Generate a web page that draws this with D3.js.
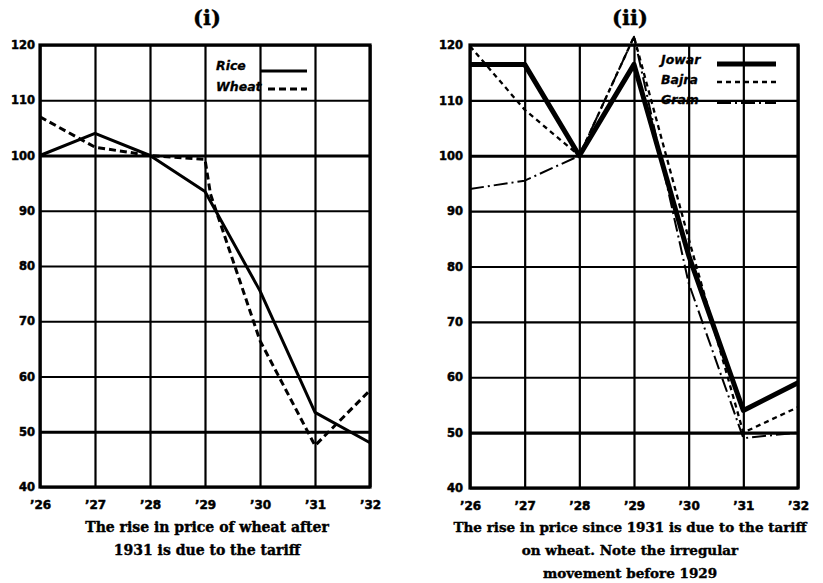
<!DOCTYPE html>
<html><head><meta charset="utf-8">
<script src="https://cdn.jsdelivr.net/npm/d3@7/dist/d3.min.js"></script>
<style>body{margin:0;background:#fff}svg{display:block}</style>
</head><body><svg id="c" width="823" height="583"></svg>
<script>
const years = [1926, 1927, 1928, 1929, 1930, 1931, 1932];
const yearLabels = ["’26", "’27", "’28", "’29", "’30", "’31", "’32"];
const yTicks = [40, 50, 60, 70, 80, 90, 100, 110, 120];

const riceValues = [100, 104, 100, 93.5, 75.5, 53.5, 48];
const wheatYears = [1926, 1927, 1928, 1929, 1929.1, 1930, 1931, 1932];
const wheatValues = [107, 101.5, 100, 99.3, 93, 66.5, 47.5, 57.5];

const jowarValues = [116.5, 116.5, 100, 116.5, 82, 54, 59];
const bajraValues = [119.8, 108.3, 100, 121.5, 85, 50, 54.6];
const gramValues = [94, 95.5, 100, 121.5, 77, 49, 50];

const svg = d3.select("#c");

function panel(cfg) {
  const x = d3.scaleLinear().domain([1926, 1932]).range([cfg.left, cfg.right]);
  const y = d3.scaleLinear().domain([40, 120]).range([cfg.bottom, cfg.top]);
  const g = svg.append("g");

  const gx = g.append("g").attr("transform", `translate(0,${cfg.bottom})`)
    .call(d3.axisBottom(x).tickValues(years).tickSize(-(cfg.bottom - cfg.top)).tickFormat((d, i) => yearLabels[i]));
  gx.select(".domain").remove();
  gx.selectAll("line").attr("stroke", "#000").attr("stroke-width", 2.2);
  gx.selectAll("text").attr("font-family", "DejaVu Sans").attr("font-weight", "bold")
    .attr("font-size", 12).attr("fill", "#000").attr("stroke", "#000").attr("stroke-width", 0.5)
    .attr("dy", "0").attr("y", 22);

  const gy = g.append("g").attr("transform", `translate(${cfg.left},0)`)
    .call(d3.axisLeft(y).tickValues(yTicks).tickSize(-(cfg.right - cfg.left)).tickPadding(cfg.pad));
  gy.select(".domain").remove();
  gy.selectAll("line").attr("stroke", "#000").attr("stroke-width", d => (d === 100 || d === 50) ? 3.2 : 2.2);
  gy.selectAll("text").attr("font-family", "DejaVu Sans").attr("font-weight", "bold")
    .attr("font-size", 11.5).attr("fill", "#000").attr("stroke", "#000").attr("stroke-width", 0.5);

  g.append("rect").attr("x", cfg.left).attr("y", cfg.top)
    .attr("width", cfg.right - cfg.left).attr("height", cfg.bottom - cfg.top)
    .attr("fill", "none").attr("stroke", "#000").attr("stroke-width", 3.2);

  cfg.series.forEach(s => {
    const pts = s.xs.map((xv, i) => [xv, s.vs[i]]);
    g.append("path").datum(pts)
      .attr("d", d3.line().x(d => x(d[0])).y(d => y(d[1])))
      .attr("fill", "none").attr("stroke", "#000")
      .attr("stroke-width", s.w).attr("stroke-dasharray", s.dash || null)
      .attr("stroke-linejoin", "round");
  });

  cfg.series.forEach((s, i) => {
    const ly = cfg.legY + i * cfg.legStep;
    g.append("text").attr("x", cfg.legX).attr("y", ly + 4)
      .attr("font-family", "DejaVu Sans").attr("font-weight", "bold").attr("font-style", "italic")
      .attr("font-size", 12.5).attr("fill", "#000").attr("stroke", "#000").attr("stroke-width", 0.3)
      .text(s.name);
    g.append("line").attr("x1", s.l1 || cfg.legL1).attr("x2", cfg.legL2)
      .attr("y1", ly + s.off).attr("y2", ly + s.off)
      .attr("stroke", "#000").attr("stroke-width", s.w).attr("stroke-dasharray", s.dash || null);
  });

  svg.append("text").attr("x", cfg.cx).attr("y", 25).attr("text-anchor", "middle")
    .attr("font-family", "DejaVu Serif").attr("font-weight", "bold").attr("font-size", 21)
    .attr("stroke", "#000").attr("stroke-width", 0.4)
    .text(cfg.title);
  cfg.caption.forEach((t, i) => {
    svg.append("text").attr("x", cfg.cx).attr("y", 532 + i * 23).attr("text-anchor", "middle")
      .attr("font-family", "DejaVu Serif").attr("font-weight", "bold").attr("font-size", cfg.capSize)
      .attr("stroke", "#000").attr("stroke-width", 0.4)
      .text(t);
  });
}

panel({
  left: 40, right: 370, top: 45, bottom: 487, pad: 5, cx: 207, title: "(i)",
  capSize: 14,
  caption: ["The rise in price of wheat after", "1931 is due to the tariff"],
  legX: 216, legY: 66, legStep: 21, legL1: 260, legL2: 307,
  series: [
    {name: "Rice", xs: years, vs: riceValues, w: 3, off: 5},
    {name: "Wheat", xs: wheatYears, vs: wheatValues, w: 3, dash: "7,4", off: 2, l1: 268}
  ]
});

panel({
  left: 470, right: 798, top: 45, bottom: 488, pad: 7, cx: 630, title: "(ii)",
  capSize: 13.5,
  caption: ["The rise in price since 1931 is due to the tariff", "on wheat. Note the irregular", "movement before 1929"],
  legX: 661, legY: 60, legStep: 20, legL1: 717, legL2: 776,
  series: [
    {name: "Jowar", xs: years, vs: jowarValues, w: 5, off: 4},
    {name: "Bajra", xs: years, vs: bajraValues, w: 2.3, dash: "5,4", off: 2},
    {name: "Gram", xs: years, vs: gramValues, w: 2, dash: "14,4,2,4", off: 3}
  ]
});
</script></body></html>
